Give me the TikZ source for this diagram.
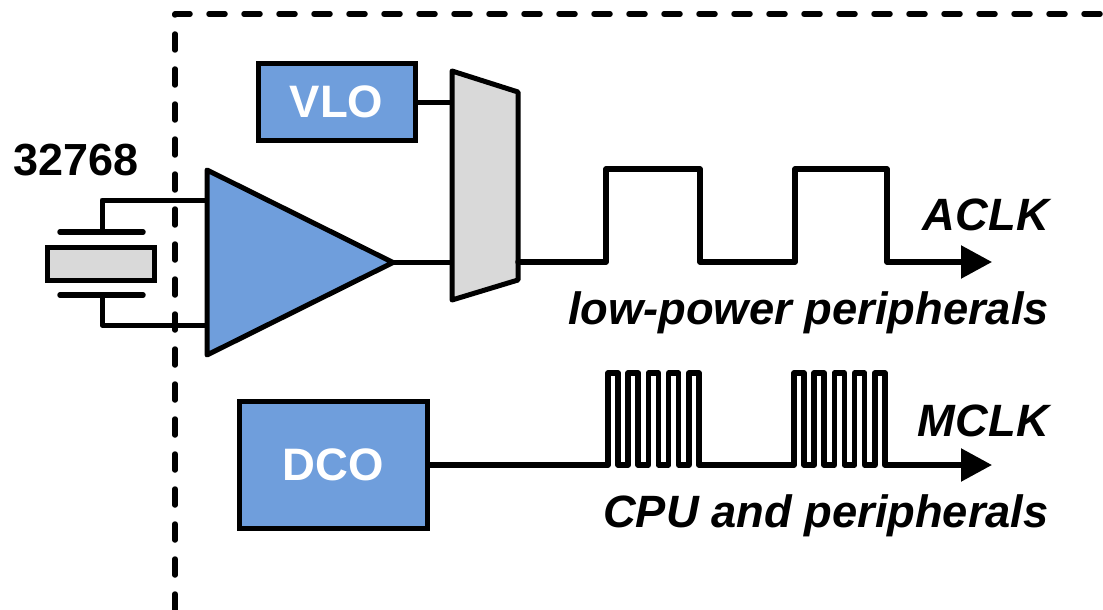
\documentclass[tikz,border=0pt]{standalone}
\usepackage{fontspec}
\setmainfont{Liberation Sans}
\usetikzlibrary{arrows.meta,shapes.geometric}
\definecolor{blockblue}{HTML}{6F9EDC}
\definecolor{blockgray}{HTML}{D9D9D9}
\tikzstyle{osc}=[shape=rectangle,
                draw=black,
                fill=blockblue,
                text=white,
                line width=5pt,
                inner sep=0pt,
                font=\fontsize{45.5}{46}\selectfont\bfseries]
\tikzstyle{amp}=[shape=isosceles triangle,
                draw=black,
                fill=blockblue,
                line width=5pt,
                line join=round,
                isosceles triangle stretches,
                inner sep=0pt,
                outer sep=0pt,
                minimum height=186pt,
                minimum width=185pt]
\tikzstyle{mux}=[draw=black,
                fill=blockgray,
                line width=5pt,
                line join=round]
\tikzstyle{xtal}=[shape=rectangle,
                draw=black,
                fill=blockgray,
                line width=5pt,
                inner sep=0pt,
                minimum width=107pt,
                minimum height=33pt]
\tikzstyle{wire}=[line width=5.5pt,line cap=round,line join=round]
\tikzstyle{lbl}=[anchor=base east,inner sep=0pt,
                font=\fontsize{45.3}{46}\selectfont\bfseries\itshape]
\tikzstyle{clkout}=[-{Triangle[length=31pt,width=32pt]}]
% one burst of the fast clock
\newcommand{\burst}{-- ++(0,-92) -- ++(10,0) -- ++(0,92) -- ++(10.2,0)
  -- ++(0,-92) -- ++(10,0) -- ++(0,92) -- ++(10.2,0)
  -- ++(0,-92) -- ++(10,0) -- ++(0,92) -- ++(10.2,0)
  -- ++(0,-92) -- ++(10,0) -- ++(0,92) -- ++(10.2,0)
  -- ++(0,-92) -- ++(10,0) -- ++(0,92)}

\begin{document}
\begin{tikzpicture}[x=1pt,y=-1pt]
\useasboundingbox (0,0) rectangle (1103,610);

% chip boundary
\coordinate (chipbl) at (175,610);
\coordinate (chiptl) at (175,14);
\coordinate (chiptr) at (1103,14);
\draw[wire,dash pattern=on 16pt off 19pt] (chipbl) -- (chiptl) -- (chiptr);

% crystal
\node[xtal] (crystal) at (100.5,263.5) {};
\coordinate (platetl) at (60,232);
\coordinate (platetr) at (143,232);
\coordinate (platebl) at (60,295);
\coordinate (platebr) at (143,295);
\coordinate (platet) at (102,232);
\coordinate (plateb) at (102,295);
\node[anchor=base west,inner sep=0pt,font=\fontsize{45}{45}\selectfont\bfseries] (freq) at (13,175) {32768};

% amplifier, mux and oscillators
\node[amp,anchor=lower side] (amplifier) at (207,262.5) {};
\coordinate (muxtl) at (452,71);
\coordinate (muxtr) at (518,92);
\coordinate (muxbr) at (518,280);
\coordinate (muxbl) at (452,300);
\draw[mux] (muxtl) -- (muxtr) -- (muxbr) -- (muxbl) -- cycle;
\node[osc,minimum width=157pt,minimum height=76pt] (vlo) at (336.5,102) {VLO};
\node[osc,minimum width=188pt,minimum height=127pt] (dco) at (333,465) {DCO};

% paths
\coordinate (ampt) at (207,200);
\coordinate (ampb) at (207,325);
\draw[wire] (platetl) -- (platetr);
\draw[wire] (platebl) -- (platebr);
\draw[line width=5pt,line join=round] (platet) |- (ampt);
\draw[line width=5pt,line join=round] (plateb) |- (ampb);
\coordinate (muxvlo) at (452,102);
\coordinate (muxamp) at (452,262.5);
\coordinate (muxout) at (518,262);
\draw[line width=5pt] (vlo.east) -- (muxvlo);
\draw[line width=5pt] (amplifier.apex) -- (muxamp);

% clock outputs
\draw[wire,clkout] (muxout) -- (606,262) -- (606,169) -- (700,169) -- (700,262)
  -- (795,262) -- (795,169) -- (887,169) -- (887,262) -- (992,262);
\draw[wire,clkout] (dco.east) -- (608,465) \burst -- (794,465) \burst -- (992,465);

% labels
\node[lbl] (aclk) at (1049,230) {ACLK};
\node[lbl] (lowpower) at (1049,324) {low-power peripherals};
\node[lbl] (mclk) at (1049,436) {MCLK};
\node[lbl] (cpu) at (1049,527) {CPU and peripherals};
\end{tikzpicture}
\end{document}
